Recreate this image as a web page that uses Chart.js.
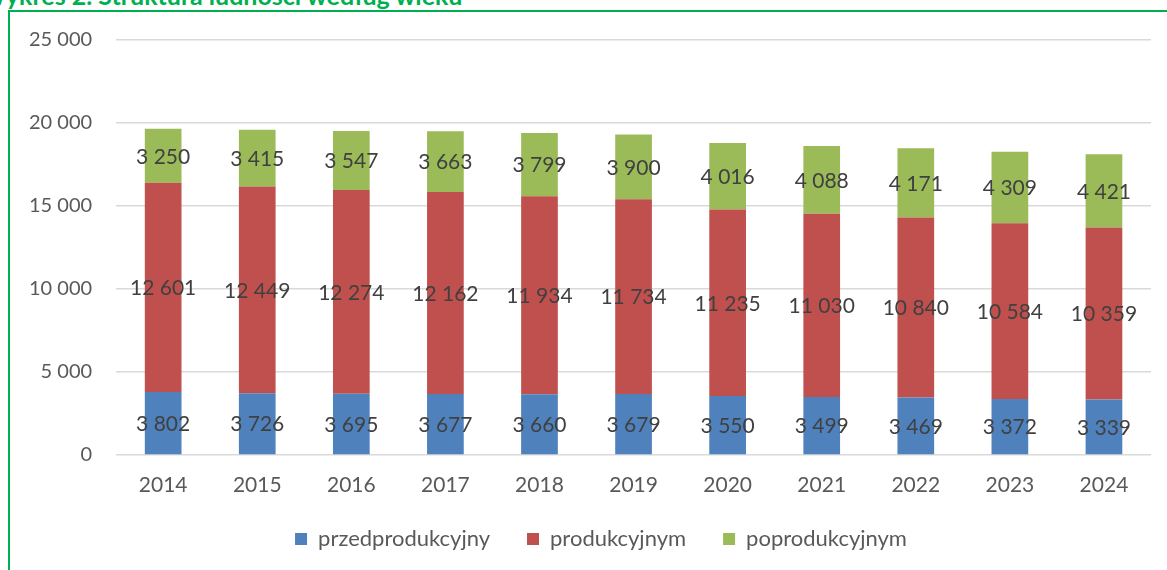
<!DOCTYPE html>
<html>
<head>
<meta charset="utf-8">
<script src="https://cdn.jsdelivr.net/npm/chart.js@4"></script>
<style>
    html, body { margin: 0; padding: 0; background: #fff; }
    body { width: 1167px; height: 570px; position: relative; overflow: hidden; font-family: Lato, sans-serif; }
    #frame {
        position: absolute; left: 8px; top: 10px; width: 1200px; height: 600px;
        border-left: 2px solid #00B050; border-top: 2px solid #00B050;
    }
    #title {
        position: absolute; left: -20px; top: -20px; white-space: nowrap;
        font: bold 25px/30px Lato, sans-serif; color: #00B050;
    }
    #wrap { position: absolute; left: 0; top: 0; width: 1167px; height: 570px; }
</style>
</head>
<body>
<div id="frame"></div>
<div id="title">Wykres 2. Struktura ludności według wieku</div>
<div id="wrap"><canvas id="chart"></canvas></div>
<script>
// Lata (kategorie)
const years = ['2014', '2015', '2016', '2017', '2018', '2019', '2020', '2021', '2022', '2023', '2024'];

// Ludność według grup wieku
const przedprodukcyjny = [3802, 3726, 3695, 3677, 3660, 3679, 3550, 3499, 3469, 3372, 3339];
const produkcyjnym = [12601, 12449, 12274, 12162, 11934, 11734, 11235, 11030, 10840, 10584, 10359];
const poprodukcyjnym = [3250, 3415, 3547, 3663, 3799, 3900, 4016, 4088, 4171, 4309, 4421];

const seriesNames = ['przedprodukcyjny', 'produkcyjnym', 'poprodukcyjnym'];
const seriesColors = ['#4F81BD', '#C0504D', '#9BBB59'];

// format with space as thousands separator
function fmt(v) {
    return String(Math.round(v)).replace(/\B(?=(\d{3})+(?!\d))/g, ' ');
}

// labels centered inside each segment
const segmentLabels = {
    id: 'segmentLabels',
    afterDatasetsDraw(chart) {
        const ctx = chart.ctx;
        ctx.save();
        ctx.font = '21px Lato, sans-serif';
        ctx.fillStyle = '#404040';
        ctx.textAlign = 'center';
        ctx.textBaseline = 'middle';
        chart.data.datasets.forEach((ds, i) => {
            const meta = chart.getDatasetMeta(i);
            meta.data.forEach((bar, j) => {
                const p = bar.getProps(['x', 'y', 'base'], true);
                ctx.fillText(fmt(ds.data[j]), p.x, (p.y + p.base) / 2 + 1);
            });
        });
        ctx.restore();
    }
};

// legend sits a bit right of centre; x labels may run into the legend box
const layoutTweaks = {
    id: 'layoutTweaks',
    afterLayout(chart) {
        if (chart.legend) {
            chart.legend.left += 23;
            chart.legend.right += 23;
        }
        chart.scales.x.bottom += 20;
    }
};

const datasets = [przedprodukcyjny, produkcyjnym, poprodukcyjnym].map((d, i) => ({
    label: seriesNames[i],
    data: d,
    backgroundColor: seriesColors[i],
    borderWidth: 0,
    categoryPercentage: 1.0,
    barPercentage: 0.39
}));

new Chart(document.getElementById('chart'), {
    type: 'bar',
    data: { labels: years, datasets: datasets },
    options: {
        responsive: true,
        maintainAspectRatio: false,
        animation: false,
        layout: { padding: { left: 5, right: 16, top: 40, bottom: 10 } },
        plugins: {
            legend: {
                position: 'bottom',
                labels: {
                    font: { family: 'Lato, sans-serif', size: 22 },
                    color: '#595959',
                    boxWidth: 12,
                    boxHeight: 12,
                    padding: 37
                }
            },
            tooltip: { enabled: false }
        },
        scales: {
            x: {
                stacked: true,
                grid: { display: false, drawTicks: false },
                border: { display: false },
                ticks: {
                    font: { family: 'Lato, sans-serif', size: 21 },
                    color: '#595959',
                    padding: 18
                },
                afterFit: (scale) => { scale.height = 36; }
            },
            y: {
                stacked: true,
                min: 0,
                max: 25000,
                grid: { color: '#D9D9D9', lineWidth: 1.5, drawTicks: false },
                border: { display: false },
                ticks: {
                    stepSize: 5000,
                    font: { family: 'Lato, sans-serif', size: 20 },
                    color: '#595959',
                    padding: 24,
                    callback: (v) => fmt(v)
                }
            }
        }
    },
    plugins: [segmentLabels, layoutTweaks]
});
</script>
</body>
</html>
